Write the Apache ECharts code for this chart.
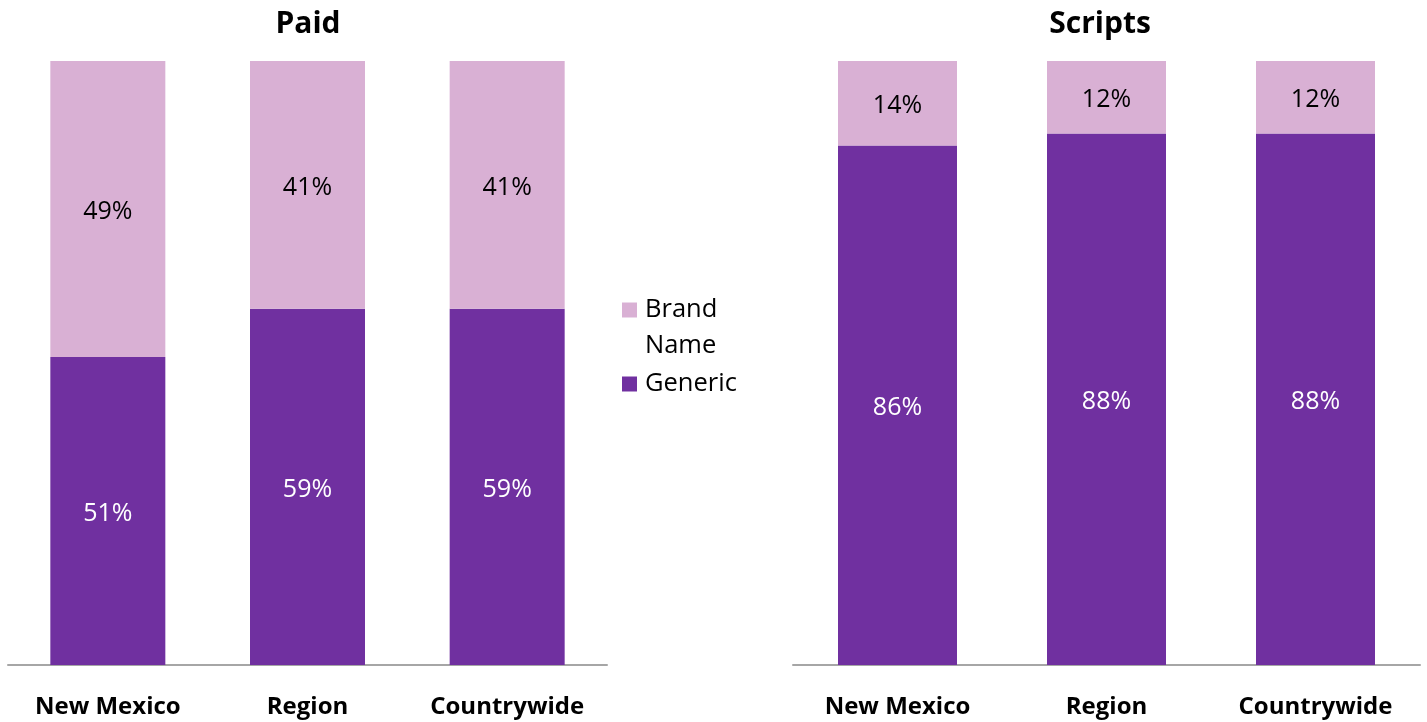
<!DOCTYPE html>
<html><head><meta charset="utf-8">
<script src="https://cdn.jsdelivr.net/npm/echarts@6/dist/echarts.min.js"></script>
<style>html,body{margin:0;padding:0;background:#fff}#c{width:1427px;height:722px}</style>
</head><body><div id="c"></div>
<script>
const categories = ['New Mexico', 'Region', 'Countrywide'];
const paidGeneric = [51, 59, 59];
const paidBrand = [49, 41, 41];
const scriptsGeneric = [86, 88, 88];
const scriptsBrand = [14, 12, 12];
const titles = ['Paid', 'Scripts'];
const seriesNames = ['Brand Name', 'Generic'];

const FONT = 'Open Sans';
const LIGHT = '#D9B0D4';
const DARK = '#7030A0';

const chart = echarts.init(document.getElementById('c'));
const xAxisBase = {
  type: 'category', data: categories,
  axisLine: {lineStyle: {color: '#A6A6A6', width: 2}},
  axisTick: {show: false},
  axisLabel: {interval: 0, fontFamily: FONT, fontWeight: 'bold', fontSize: 24, color: '#000', margin: 30}
};
const yAxisBase = {type: 'value', min: 0, max: 100, show: false};
function bar(name, data, idx, stack, color, labelColor) {
  return {
    name, type: 'bar', stack, data, xAxisIndex: idx, yAxisIndex: idx,
    barWidth: idx === 0 ? 115 : 119,
    itemStyle: {color},
    label: {show: true, position: 'inside', offset: [0, 3], formatter: '{c}%', fontFamily: FONT, fontSize: 25, color: labelColor},
    emphasis: {disabled: true}
  };
}
const titleStyle = {fontFamily: FONT, fontWeight: 'bold', fontSize: 30, color: '#000'};
chart.setOption({
  animation: false,
  title: [
    {text: titles[0], left: 308, top: 9, padding: 0, textAlign: 'center', textStyle: titleStyle},
    {text: titles[1], left: 1100, top: 9, padding: 0, textAlign: 'center', textStyle: titleStyle}
  ],
  legend: [
    {data: [seriesNames[0]], left: 622, top: 256, padding: 0, orient: 'vertical', itemWidth: 15, itemHeight: 15,
     icon: 'rect', formatter: () => '\nBrand\nName', selectedMode: false,
     textStyle: {fontFamily: FONT, fontSize: 25.5, color: '#000', lineHeight: 36, padding: [0, 0, 0, 3]}},
    {data: [seriesNames[1]], left: 622, top: 366, padding: 0, orient: 'vertical', itemWidth: 15, itemHeight: 15,
     icon: 'rect', selectedMode: false,
     textStyle: {fontFamily: FONT, fontSize: 25.5, color: '#000', lineHeight: 36, padding: [0, 0, 0, 3]}}
  ],
  grid: [
    {left: 8, width: 599, top: 61, bottom: 57},
    {left: 793, width: 627, top: 61, bottom: 57}
  ],
  xAxis: [Object.assign({gridIndex: 0}, xAxisBase), Object.assign({gridIndex: 1}, xAxisBase)],
  yAxis: [Object.assign({gridIndex: 0}, yAxisBase), Object.assign({gridIndex: 1}, yAxisBase)],
  series: [
    bar(seriesNames[1], paidGeneric, 0, 'p', DARK, '#fff'),
    bar(seriesNames[0], paidBrand, 0, 'p', LIGHT, '#000'),
    bar(seriesNames[1], scriptsGeneric, 1, 's', DARK, '#fff'),
    bar(seriesNames[0], scriptsBrand, 1, 's', LIGHT, '#000')
  ]
});
</script></body></html>
